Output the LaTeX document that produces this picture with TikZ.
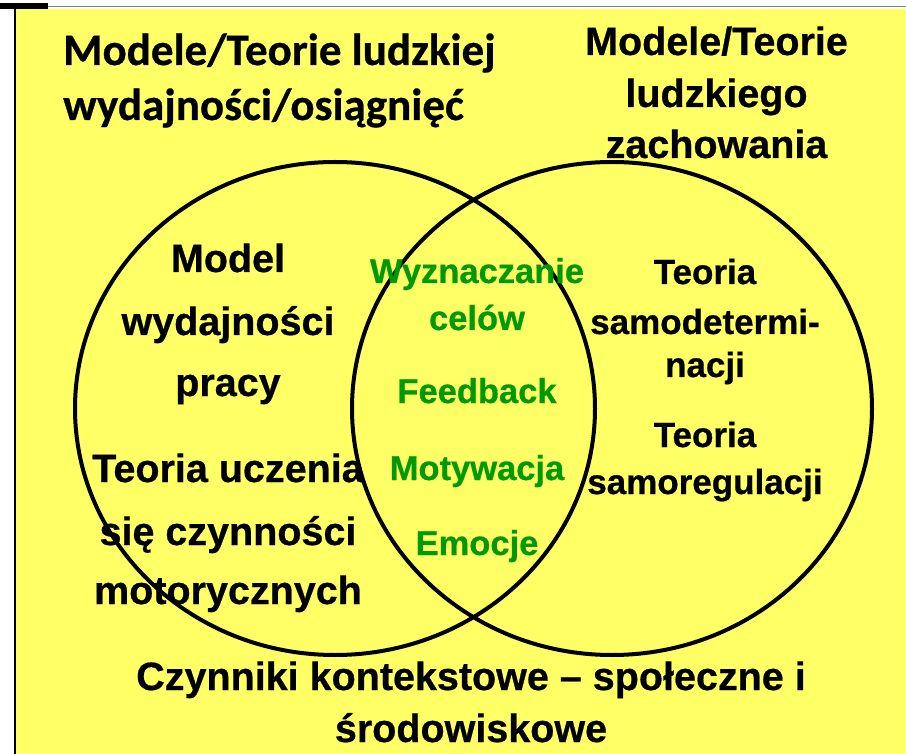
\documentclass[tikz,border=0pt]{standalone}
\usepackage{fontspec}
\setmainfont{Liberation Sans}[BoldFeatures={FakeBold=0.6}]
\newfontfamily\calib{Carlito}[BoldFeatures={FakeBold=0.6}]
\definecolor{bgyellow}{HTML}{FFFF66}
\definecolor{txtgreen}{HTML}{009900}
\begin{document}
\begin{tikzpicture}[x=1pt,y=-1pt,
  ring/.style={draw=black,line width=4pt},
  big/.style={font=\fontsize{39.5}{47}\selectfont\bfseries,anchor=base,inner sep=0pt},
  mid/.style={font=\fontsize{35}{42}\selectfont\bfseries,anchor=base,inner sep=0pt},
  grn/.style={font=\fontsize{34.5}{41}\selectfont\bfseries,text=txtgreen,anchor=base,inner sep=0pt},
  cal/.style={font=\calib\fontsize{45}{54}\selectfont\bfseries,anchor=base west,inner sep=0pt}]
\useasboundingbox (0,0) rectangle (906,754);
\fill[white] (0,0) rectangle (906,754);
\fill[bgyellow] (16,9) rectangle (906,754);
\draw[gray,line width=1.5pt] (48,6.5) -- (906,6.5);
\fill[black] (0,3) rectangle (48,9);
\draw[black,line width=2.5pt] (15,9) -- (15,754);
% circles
\draw[ring] (335,408.5) ellipse [x radius=260, y radius=246.5];
\draw[ring] (612,408.5) ellipse [x radius=260, y radius=246.5];
% top-left title (Calibri)
\node[cal] (tl1) at (63,65) {Modele/Teorie ludzkiej};
\node[cal] (tl2) at (63,120) {wydajności/osiągnięć};
% top-right title
\node[big] (tr1) at (716.5,55) {Modele/Teorie};
\node[big] (tr2) at (716.5,107) {ludzkiego};
\node[big] (tr3) at (716.5,158) {zachowania};
% left circle
\node[big] (l1) at (228,272) {Model};
\node[big] (l2) at (228,335) {wydajności};
\node[big] (l3) at (228,396) {pracy};
\node[big] (l4) at (228,482) {Teoria uczenia};
\node[big] (l5) at (228,545) {się czynności};
\node[big] (l6) at (228,604) {motorycznych};
% intersection
\node[grn] (g1) at (477,283) {Wyznaczanie};
\node[grn] (g2) at (477,330) {celów};
\node[grn] (g3) at (477,403) {Feedback};
\node[grn] (g4) at (477,480) {Motywacja};
\node[grn] (g5) at (477,555) {Emocje};
% right circle
\node[mid] (r1) at (705,284) {Teoria};
\node[mid] (r2) at (705,334) {samodetermi-};
\node[mid] (r3) at (705,377) {nacji};
\node[mid] (r4) at (705,447) {Teoria};
\node[mid] (r5) at (705,494) {samoregulacji};
% bottom
\node[big] (b1) at (471,690) {Czynniki kontekstowe – społeczne i};
\node[big] (b2) at (471,742) {środowiskowe};
\end{tikzpicture}
\end{document}
